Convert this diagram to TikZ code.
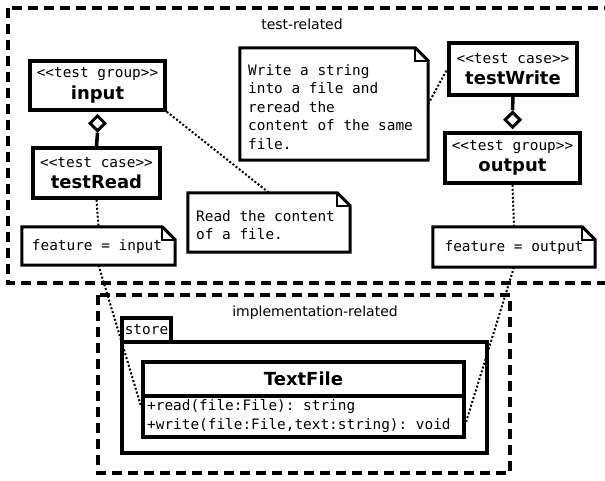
\documentclass[tikz,border=0pt]{standalone}
\usepackage{fontspec}
\setmainfont{DejaVu Sans}
\setmonofont{DejaVu Sans Mono}
\usetikzlibrary{arrows.meta,shapes.geometric}
\newcommand\stfont{\fontsize{14.4}{16}\mdseries\ttfamily}
\newcommand\nmfont{\fontsize{18}{21.5}\selectfont\bfseries}
\begin{document}
\begin{tikzpicture}[x=1pt,y=-1pt,
  umlbox/.style={draw, line width=3.5pt, inner sep=0pt, align=center, font=\nmfont},
  notenode/.style={inner sep=0pt},
  notetext/.style={inner sep=0pt, anchor=north west, align=left, font=\fontsize{14.4}{18.5}\ttfamily},
  frame/.style={line width=3.5pt, dash pattern=on 10pt off 6pt},
  noteline/.style={line width=2pt, dash pattern=on 2pt off 2pt},
  aggline/.style={line width=3.5pt},
  aggdia/.style={draw, diamond, line width=3pt, fill=white, inner sep=0pt, minimum width=16pt, minimum height=16pt},
  fold/.style={line width=3pt, line join=miter}
]
\useasboundingbox (0,0) rectangle (605,480);
\clip (0,0) rectangle (605,480);

% frames
\draw[frame] (8,8) rectangle (612,283);
\node[font=\fontsize{14}{16}\selectfont] (trl) at (302,24) {test-related};
\draw[frame] (98,295) rectangle (510,473);
\node[font=\fontsize{14}{16}\selectfont] (irl) at (315,313) {implementation-related};

% package store
\node[draw, line width=3.5pt, minimum width=49, minimum height=24, inner sep=0pt, font=\stfont] (tab) at (146.5,330) {store};
\draw[line width=3.5pt] (122,342) rectangle (487,453);

% class TextFile
\node[umlbox, minimum width=321, minimum height=34] (tf) at (303.5,379) {TextFile};
\node[umlbox, minimum width=321, minimum height=41] (ops) at (303.5,416.5) {};
\node[inner sep=0pt, anchor=west, font=\stfont] (rd) at (147,407) {+read(file:File): string};
\node[inner sep=0pt, anchor=west, font=\stfont] (wr) at (147,426) {+write(file:File,text:string): void};

% test group / case boxes
\node[umlbox, minimum width=135, minimum height=49] (input) at (97.5,85.5)
  {{\stfont <<test group>>}\\input};
\node[umlbox, minimum width=127, minimum height=50] (testRead) at (96.5,173)
  {{\stfont <<test case>>}\\testRead};
\node[umlbox, minimum width=128, minimum height=52] (testWrite) at (513,69)
  {{\stfont <<test case>>}\\testWrite};
\node[umlbox, minimum width=135, minimum height=50] (output) at (512.5,158)
  {{\stfont <<test group>>}\\output};

% notes
\node[notenode, minimum width=188, minimum height=112] (wnote) at (334,104) {};
\node[notetext] (wtext) at (248,64) {Write a string\\into a file and\\reread the\\content of the same\\file.};
\node[notenode, minimum width=162, minimum height=59] (rnote) at (269,222.5) {};
\node[notetext] (rtext) at (196,210) {Read the content\\of a file.};
\node[notenode, minimum width=153, minimum height=38] (finput) at (98.5,246) {};
\node[inner sep=0pt, font=\stfont] (fitext) at (97,247) {feature = input};
\node[notenode, minimum width=162, minimum height=40] (foutput) at (514,247) {};
\node[inner sep=0pt, font=\stfont] (fotext) at (514,248) {feature = output};

\foreach \n in {wnote,rnote,finput,foutput}{
  \draw[fold] (\n.north west) -- ([xshift=-13pt]\n.north east) -- ([yshift=-13pt]\n.north east)
     -- (\n.south east) -- (\n.south west) -- cycle;
  \draw[line width=1.5pt] ([xshift=-13pt]\n.north east) -- ([xshift=-13pt,yshift=-13pt]\n.north east)
     -- ([yshift=-13pt]\n.north east);
}

% aggregations
\node[aggdia, anchor=north] (dia1) at ([yshift=-2pt]input.south) {};
\draw[aggline] (testRead.north) -- (dia1.south);
\node[aggdia, anchor=south] (dia2) at ([yshift=2pt]output.north) {};
\draw[aggline] (testWrite.south) -- (dia2.north);

% note links
\draw[noteline] (input.south east) -- (rnote.north);
\draw[noteline] (wnote.east) -- (testWrite.west);
\draw[noteline] (testRead.south) -- (finput.north);
\draw[noteline] (output.south) -- (foutput.north);
\draw[noteline] (finput.south) -- (ops.west |- rd.west);
\draw[noteline] (foutput.south) -- ([yshift=3pt]ops.east |- wr.east);
\end{tikzpicture}
\end{document}
